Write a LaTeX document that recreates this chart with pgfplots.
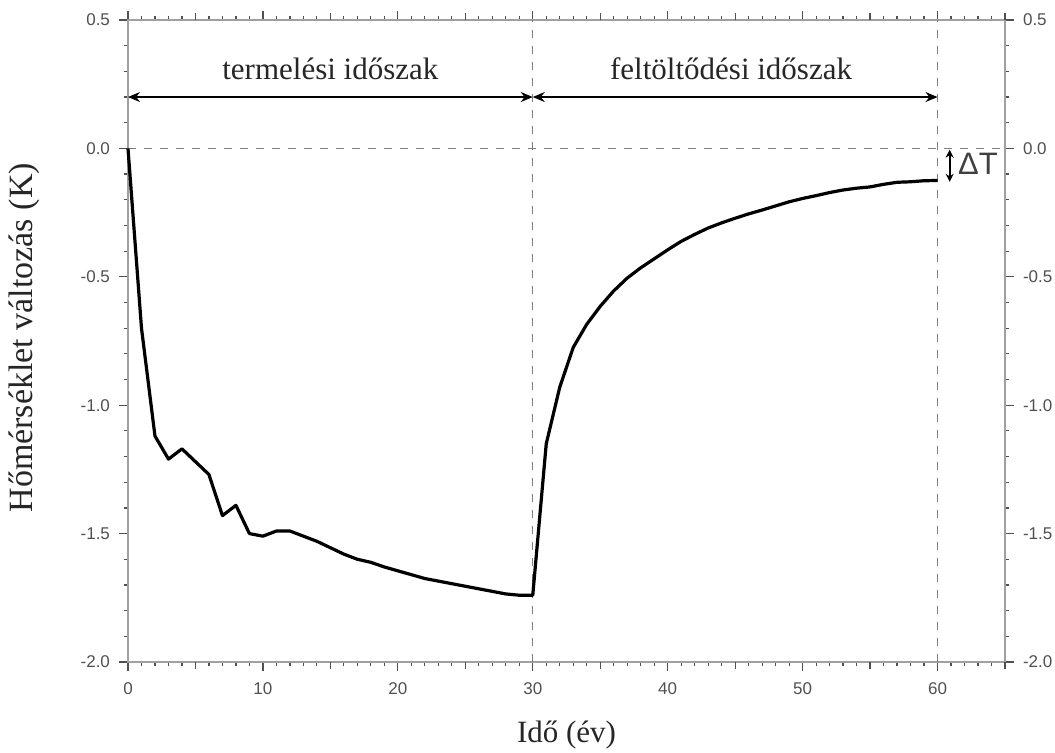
\documentclass[border=0pt]{standalone}
\usepackage{fontspec}
\setmainfont{Liberation Serif}
\newfontfamily\arialf{Liberation Sans}
\usepackage{pgfplots}
\usepackage{pgfplotstable}
\pgfplotsset{compat=1.18}
\usetikzlibrary{arrows.meta}
\definecolor{axgray}{HTML}{A0A0A0}
\definecolor{lblgray}{HTML}{505050}

\pgfplotstableread{
x y
0 0
1 -0.70
2 -1.12
3 -1.21
4 -1.17
5 -1.22
6 -1.27
7 -1.43
8 -1.39
9 -1.50
10 -1.51
11 -1.49
12 -1.49
13 -1.51
14 -1.53
15 -1.555
16 -1.58
17 -1.60
18 -1.612
19 -1.63
20 -1.645
21 -1.66
22 -1.675
23 -1.685
24 -1.695
25 -1.705
26 -1.715
27 -1.725
28 -1.735
29 -1.74
30 -1.74
31 -1.15
32 -0.93
33 -0.775
34 -0.685
35 -0.615
36 -0.555
37 -0.505
38 -0.465
39 -0.43
40 -0.395
41 -0.362
42 -0.335
43 -0.31
44 -0.29
45 -0.272
46 -0.255
47 -0.24
48 -0.224
49 -0.208
50 -0.195
51 -0.184
52 -0.172
53 -0.162
54 -0.155
55 -0.15
56 -0.14
57 -0.132
58 -0.13
59 -0.126
60 -0.125
}\curve

\pgfplotsset{
  common/.style={
    at={(0,0)}, anchor=south west,
    scale only axis, width=438.5pt, height=321pt,
    xmin=0, xmax=65, ymin=-2, ymax=0.5,
    ytick={-2,-1.5,-1,-0.5,0,0.5},
    minor y tick num=4,
    tick align=outside,
    major tick length=4.5pt, minor tick length=2.2pt,
    axis line style={axgray, line width=0.9pt},
    every tick/.style={lblgray, line width=0.6pt},
    /pgf/number format/assume math mode=true,
    tick label style={font=\arialf\fontsize{8.5}{10}\selectfont, text=lblgray},
    yticklabel style={/pgf/number format/fixed, /pgf/number format/fixed zerofill, /pgf/number format/precision=1, xshift=-1pt},
    xticklabel style={yshift=-2.5pt},
  }
}

\begin{document}
\begin{tikzpicture}
\useasboundingbox (-64pt,-45.5pt) rectangle (463.5pt,331pt);
\begin{axis}[
  common,
  xtick={0,10,...,60},
  minor xtick={0,1,...,65},
  extra x ticks={5,15,25,35,45,55,65},
  extra x tick labels={},
  extra x tick style={major tick length=3.4pt},
  xtick pos=both, ytick pos=both,
  xticklabel pos=lower, yticklabel pos=left,
  xlabel={Idő (év)},
  ylabel={Hőmérséklet változás (K)},
  label style={text=black!85},
  xlabel style={font=\fontsize{15.5}{17}\selectfont, at={(axis description cs:0.5,-0.114)}, anchor=center},
  ylabel style={font=\fontsize{17}{19}\selectfont, at={(axis description cs:-0.118,0.505)}, anchor=center},
  clip=false,
]
\addplot[gray, dash pattern=on 4pt off 4pt, line width=0.6pt] coordinates {(0,0) (65,0)};
\addplot[gray, dash pattern=on 4pt off 4pt, line width=0.6pt] coordinates {(30,-2) (30,0.5)};
\addplot[gray, dash pattern=on 4pt off 4pt, line width=0.6pt] coordinates {(60,-2) (60,0.5)};
\addplot[black, line width=1.6pt, line join=round] table[x=x, y=y] {\curve};
\draw[{Stealth[length=6pt,width=5pt]}-{Stealth[length=6pt,width=5pt]}, line width=0.9pt] (axis cs:0,0.2) -- (axis cs:30,0.2);
\draw[{Stealth[length=6pt,width=5pt]}-{Stealth[length=6pt,width=5pt]}, line width=0.9pt] (axis cs:30,0.2) -- (axis cs:60,0.2);
\node[font=\fontsize{15.5}{17}\selectfont, text=black!85] at (axis cs:15,0.31) {termelési időszak};
\node[font=\fontsize{15.5}{17}\selectfont, text=black!85] at (axis cs:44.7,0.31) {feltöltődési időszak};
\draw[{Stealth[length=4pt,width=4pt]}-{Stealth[length=4pt,width=4pt]}, line width=1pt] (axis cs:60.9,-0.005) -- (axis cs:60.9,-0.13);
\node[font=\arialf\fontsize{15.5}{17}\selectfont, text=black!75] at (axis cs:63.0,-0.062) {ΔT};
\end{axis}
\begin{axis}[
  common,
  hide x axis,
  axis y line*=right,
  y axis line style={draw=none},
  ytick style={draw=none},
  minor y tick num=0,
  yticklabel style={xshift=2pt},
]
\addplot[draw=none] coordinates {(0,0)};
\end{axis}
\end{tikzpicture}
\end{document}
